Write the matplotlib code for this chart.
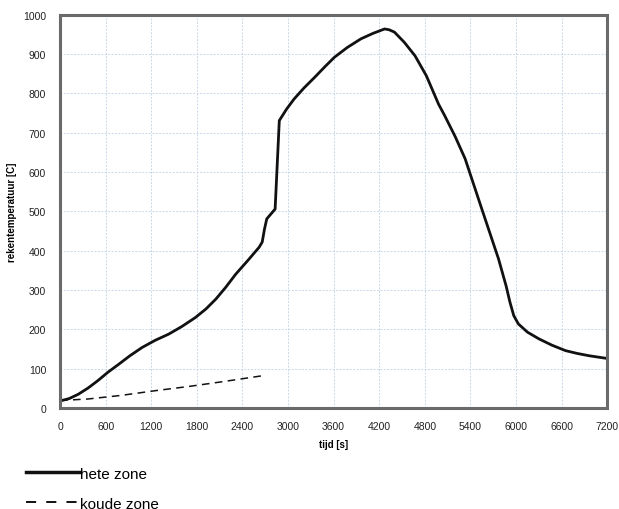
import numpy as np
import matplotlib
matplotlib.use("Agg")
from matplotlib import pyplot as plt
from matplotlib.lines import Line2D

# hete zone
t_hot = [0, 120, 240, 370, 500, 630, 770, 920, 1080, 1250, 1430, 1600, 1780,
         1920, 2050, 2180, 2310, 2470, 2620, 2660, 2690, 2720, 2830, 2885,
         2980, 3080, 3210, 3350, 3480, 3610, 3780, 3960, 4120, 4270, 4330,
         4400, 4530, 4670, 4820, 4980, 5060, 5200, 5330, 5550, 5770, 5870,
         5920, 5970, 6030, 6150, 6300, 6470, 6650, 6800, 6960, 7200]
T_hot = [18, 24, 35, 51, 70, 91, 111, 133, 154, 172, 188, 207, 230,
         252, 277, 307, 340, 375, 409, 422, 455, 481, 506, 731,
         760, 786, 814, 841, 867, 892, 917, 939, 953, 964, 962,
         956, 930, 896, 845, 773, 744, 690, 634, 506, 379, 310,
         269, 235, 214, 193, 176, 160, 146, 139, 133, 126]

# koude zone
t_cold = [0, 370, 800, 1250, 1700, 2140, 2660]
T_cold = [19, 23, 32, 44, 55, 67, 82]

x_ticks = list(range(0, 7201, 600))
y_ticks = list(range(0, 1001, 100))

plt.rcParams['font.family'] = ['Liberation Sans', 'DejaVu Sans']

fig = plt.figure(figsize=(6.19, 5.10), dpi=100)
ax = fig.add_axes([0.097, 0.198, 0.884, 0.771])

ax.plot(t_hot, T_hot, color="#111111", lw=2.0, solid_joinstyle="round")
ax.plot(t_cold, T_cold, color="#111111", lw=1.1, ls=(0, (5, 3.5)))

ax.set_xlim(0, 7200)
ax.set_ylim(0, 1000)
ax.set_xticks(x_ticks)
ax.set_yticks(y_ticks)
ax.tick_params(axis="x", labelsize=7.5, length=0, pad=9, colors="#222222")
ax.tick_params(axis="y", labelsize=7.5, length=0, pad=10, colors="#222222")
ax.grid(True, color="#c8d8e8", lw=0.7, ls=(0, (2, 1.5)))
ax.set_axisbelow(True)
for s in ax.spines.values():
    s.set_color("#6a6a6a")
    s.set_linewidth(2.2)

ax.set_xlabel("tijd [s]", fontsize=7, fontweight="bold", labelpad=6)
ax.set_ylabel("rekentemperatuur [C]", fontsize=7, fontweight="bold", labelpad=4)

handles = [Line2D([], [], color="#111111", lw=2.5),
           Line2D([], [], color="#111111", lw=1.4, ls=(0, (5.2, 5.2)))]
fig.legend(handles, ["hete zone", "koude zone"], loc="lower left",
           bbox_to_anchor=(0.02, -0.03), frameon=False, fontsize=11,
           handlelength=3.5, handletextpad=0.0, labelspacing=1.05)

fig.savefig("out.png", dpi=100)
